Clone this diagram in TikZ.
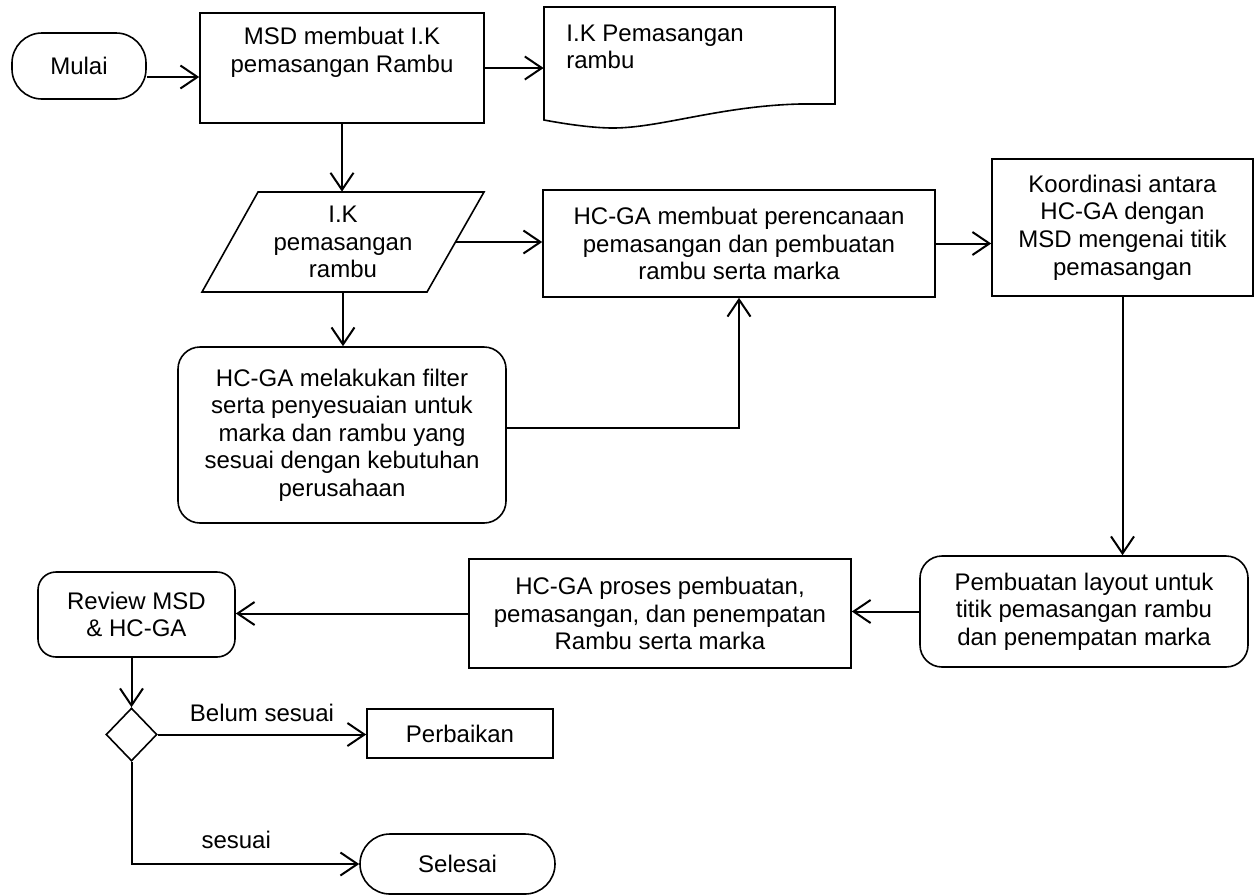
\documentclass[tikz,border=0pt]{standalone}
\usepackage{fontspec}
\setmainfont{Liberation Sans}
\usetikzlibrary{arrows.meta,shapes.geometric,calc}
\begin{document}
\begin{tikzpicture}[x=0.5pt,y=-0.5pt,
  every node/.style={font=\fontsize{12pt}{13.8pt}\selectfont},
  pbox/.style={draw, line width=0.8pt, align=center, inner sep=0pt},
  rbox/.style={pbox, rounded corners=11pt},
  termbox/.style={pbox, rounded corners=15pt},
  arr/.style={line width=1pt, -{Straight Barb[length=8.5pt,width=11.5pt,line width=1pt]}},
  lbl/.style={inner sep=0pt, align=center}]
\useasboundingbox (0,0) rectangle (1256,895);

% nodes
\node[termbox, minimum width=67pt, minimum height=33pt] (mulai) at (79,66) {Mulai};
\node[pbox, minimum width=142pt, minimum height=55pt] (msd) at (342,68) {};
\node[lbl] (msdt) at (342,52) {MSD membuat I.K\\pemasangan Rambu};

\draw[line width=0.8pt] (544,7) -- (835,7) -- (835,104) -- (800,104)
  .. controls (720,106) and (660,128) .. (613,128)
  .. controls (590,128) and (560,123) .. (544,120) -- cycle;
\node[inner sep=0pt, minimum width=145.5pt, minimum height=56.5pt] (doc) at (689.5,63.5) {};
\node[lbl, align=left, anchor=west] (doct) at (566,47) {I.K Pemasangan\\rambu};

\draw[line width=0.8pt] (258,192) -- (484,192) -- (427,292) -- (202,292) -- cycle;
\node[lbl, minimum width=113pt, minimum height=50pt] (para) at (343,242) {I.K\\pemasangan\\rambu};
\coordinate (paraR) at (455.5,242);

\node[pbox, minimum width=196pt, minimum height=53.5pt] (plan) at (739,243.5)
  {HC-GA membuat perencanaan\\pemasangan dan pembuatan\\rambu serta marka};
\node[pbox, minimum width=130.5pt, minimum height=68.5pt] (koor) at (1122.5,227.5)
  {Koordinasi antara\\HC-GA dengan\\MSD mengenai titik\\pemasangan};
\node[rbox, minimum width=164pt, minimum height=88pt] (filter) at (342,435)
  {HC-GA melakukan filter\\serta penyesuaian untuk\\marka dan rambu yang\\sesuai dengan kebutuhan\\perusahaan};
\node[rbox, minimum width=164pt, minimum height=55.5pt] (layout) at (1084,611.5)
  {Pembuatan layout untuk\\titik pemasangan rambu\\dan penempatan marka};
\node[pbox, minimum width=191pt, minimum height=54.5pt] (proses) at (660,613.5)
  {HC-GA proses pembuatan,\\pemasangan, dan penempatan\\Rambu serta marka};
\node[rbox, rounded corners=9pt, minimum width=98.5pt, minimum height=42.5pt] (review) at (136.5,614.5)
  {Review MSD\\\& HC-GA};
\node[draw, line width=0.8pt, diamond, minimum width=25.5pt, minimum height=26.5pt, inner sep=0pt] (dia) at (131.5,734.5) {};
\node[pbox, minimum width=93pt, minimum height=24.5pt] (perb) at (460,733.5) {Perbaikan};
\node[termbox, minimum width=97.5pt, minimum height=30pt] (sel) at (457.5,864) {Selesai};

% connectors
\draw[arr] (mulai.east |- 0,77) -- (msd.west |- 0,77);
\draw[arr] (msd.east) -- (doc.west |- msd.east);
\draw[arr] (msd.south) -- (msd.south |- para.north);
\draw[arr] (paraR) -- (plan.west |- paraR);
\draw[arr] (para.south) -- (para.south |- filter.north);
\draw[arr] (plan.east) -- (koor.west |- plan.east);
\draw[arr] ([yshift=3.5pt]filter.east) -| (plan.south);
\draw[arr] (koor.south) -- (koor.south |- layout.north);
\draw[arr] (layout.west) -- (proses.east |- layout.west);
\draw[arr] (proses.west) -- (review.east |- proses.west);
\draw[arr] (review.south -| dia.north) -- (dia.north);
\draw[arr] (dia.east) -- node[lbl, above=6pt] (lbl1) {Belum sesuai} (perb.west |- dia.east);
\draw[arr] (dia.south) |- node[lbl, above=7pt, pos=0.73] (lbl2) {sesuai} (sel.west);
\end{tikzpicture}
\end{document}
